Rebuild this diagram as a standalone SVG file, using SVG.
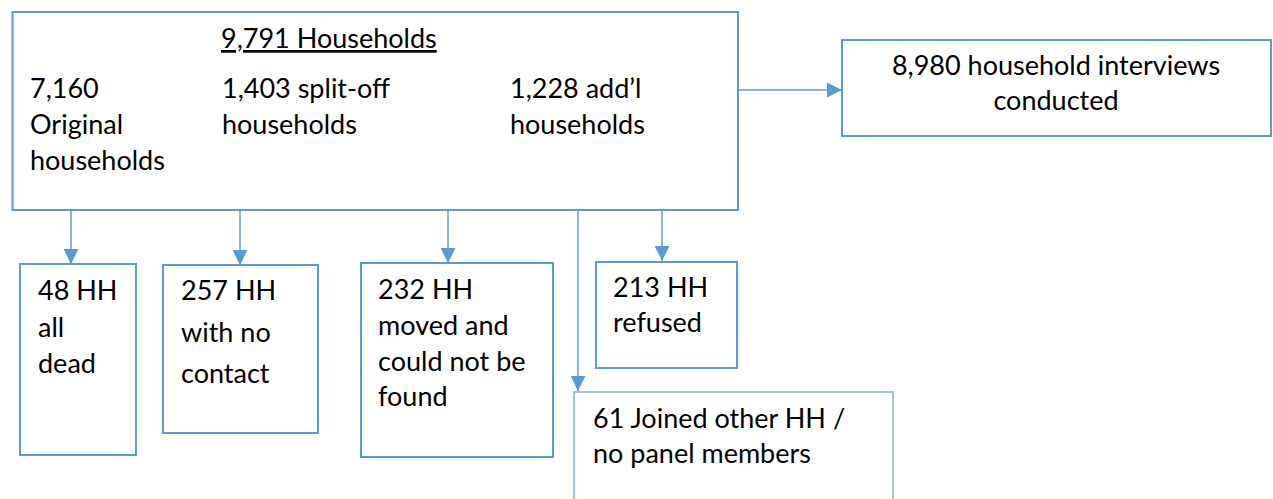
<svg xmlns="http://www.w3.org/2000/svg" width="1273" height="499" viewBox="0 0 1273 499">
<defs>
<marker id="arr" viewBox="0 0 15 15" markerWidth="15" markerHeight="15" refX="15" refY="7.5" orient="auto" markerUnits="userSpaceOnUse">
<path d="M0,0 L15,7.5 L0,15 Z" fill="#5B9BD5"/>
</marker>
<style>
.box{fill:#fff;stroke:#5B9BD5;stroke-width:2}
.box2{fill:#fff;stroke:#9DC3E6;stroke-width:2}
.t{font-family:Lato,"Open Sans",sans-serif;font-size:27px;fill:#000}
.c{stroke:#5B9BD5;stroke-width:1.5;fill:none;marker-end:url(#arr)}
</style>
</defs>
<rect width="1273" height="499" fill="#fff"/>
<g id="connectors">
<line class="c" x1="738" y1="90" x2="842" y2="90"/>
<line class="c" x1="71" y1="210" x2="71" y2="264"/>
<line class="c" x1="240" y1="210" x2="240" y2="265"/>
<line class="c" x1="448" y1="210" x2="448" y2="263"/>
<line class="c" x1="578" y1="210" x2="578" y2="391"/>
<line class="c" x1="662" y1="210" x2="662" y2="261"/>
</g>
<g id="main">
<rect class="box" x="12.5" y="12" width="725.5" height="198"/>
<text class="t" x="221" y="48" text-decoration="underline">9,791 Households</text>
<text class="t" x="30" y="98">7,160</text>
<text class="t" x="30" y="134">Original</text>
<text class="t" x="30" y="170">households</text>
<text class="t" x="222" y="98">1,403 split-off</text>
<text class="t" x="222" y="134">households</text>
<text class="t" x="510" y="98">1,228 add’l</text>
<text class="t" x="510" y="134">households</text>
</g>
<g id="interviews">
<rect class="box" x="842" y="40" width="429" height="96"/>
<text class="t" x="1056" y="75" text-anchor="middle">8,980 household interviews</text>
<text class="t" x="1056" y="110" text-anchor="middle">conducted</text>
</g>
<g id="dead">
<rect class="box" x="20" y="264" width="116" height="191"/>
<text class="t" x="38" y="300">48 HH</text>
<text class="t" x="38" y="337">all</text>
<text class="t" x="38" y="373">dead</text>
</g>
<g id="nocontact">
<rect class="box" x="163" y="265" width="155" height="168"/>
<text class="t" x="181" y="300">257 HH</text>
<text class="t" x="181" y="342">with no</text>
<text class="t" x="181" y="383">contact</text>
</g>
<g id="moved">
<rect class="box" x="361" y="263" width="192" height="194"/>
<text class="t" x="378" y="299">232 HH</text>
<text class="t" x="378" y="335">moved and</text>
<text class="t" x="378" y="371">could not be</text>
<text class="t" x="378" y="406">found</text>
</g>
<g id="refused">
<rect class="box" x="596" y="262" width="141" height="106"/>
<text class="t" x="613" y="297">213 HH</text>
<text class="t" x="613" y="332">refused</text>
</g>
<g id="joined">
<rect class="box2" x="574" y="392" width="319" height="120"/>
<text class="t" x="593" y="428">61 Joined other HH /</text>
<text class="t" x="593" y="463">no panel members</text>
</g>
</svg>
